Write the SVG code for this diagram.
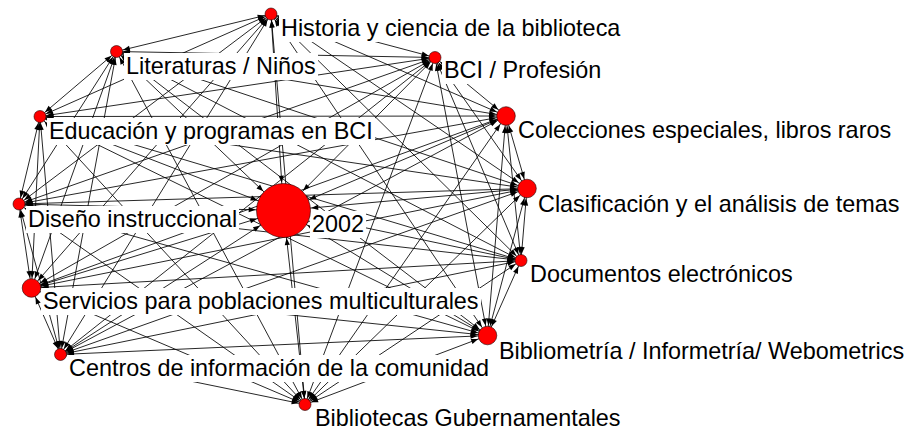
<svg xmlns="http://www.w3.org/2000/svg" width="916" height="433" viewBox="0 0 916 433">
<defs>
<marker id="m6" markerUnits="userSpaceOnUse" markerWidth="10" markerHeight="10" refX="6.5" refY="0" orient="auto-start-reverse" overflow="visible"><path d="M0,0 L-7,-2.6 L-7,2.6 Z" fill="#000"/></marker>
<marker id="m9" markerUnits="userSpaceOnUse" markerWidth="10" markerHeight="10" refX="10" refY="0" orient="auto-start-reverse" overflow="visible"><path d="M0,0 L-7,-2.6 L-7,2.6 Z" fill="#000"/></marker>
<marker id="m27" markerUnits="userSpaceOnUse" markerWidth="10" markerHeight="10" refX="27.8" refY="0" orient="auto-start-reverse" overflow="visible"><path d="M0,0 L-7,-2.6 L-7,2.6 Z" fill="#000"/></marker>
</defs>
<style>
#edges line{stroke:#000;stroke-width:0.85;fill:none}
.s6{marker-start:url(#m6)} .s9{marker-start:url(#m9)} .s27{marker-start:url(#m27)}
.e6{marker-end:url(#m6)} .e9{marker-end:url(#m9)} .e27{marker-end:url(#m27)}
.box{fill:#fff;stroke:none}
.lbl{font-family:"Liberation Sans",Arial,sans-serif;font-size:23.4px;fill:#000}
.nd{fill:#ff0000;stroke:#200;stroke-width:0.6}
</style>
<rect width="916" height="433" fill="#fff"/>
<g id="edges">
<line x1="271" y1="14" x2="116.5" y2="51.5" class="s6 e6"/>
<line x1="271" y1="14" x2="435" y2="57.5" class="s6 e6"/>
<line x1="271" y1="14" x2="40" y2="116.5" class="s6 e6"/>
<line x1="271" y1="14" x2="506" y2="116" class="s6 e9"/>
<line x1="271" y1="14" x2="527" y2="188.5" class="s6 e9"/>
<line x1="271" y1="14" x2="19" y2="204" class="s6 e6"/>
<line x1="271" y1="14" x2="283.5" y2="210.5" class="s6 e27"/>
<line x1="271" y1="14" x2="521" y2="260.5" class="s6 e6"/>
<line x1="271" y1="14" x2="31.5" y2="288" class="s6 e9"/>
<line x1="271" y1="14" x2="487.5" y2="335.5" class="s6 e9"/>
<line x1="271" y1="14" x2="60.5" y2="354.5" class="s6 e6"/>
<line x1="271" y1="14" x2="305" y2="404.5" class="s6 e6"/>
<line x1="116.5" y1="51.5" x2="435" y2="57.5" class="s6 e6"/>
<line x1="116.5" y1="51.5" x2="40" y2="116.5" class="s6 e6"/>
<line x1="116.5" y1="51.5" x2="506" y2="116" class="s6 e9"/>
<line x1="116.5" y1="51.5" x2="527" y2="188.5" class="s6 e9"/>
<line x1="116.5" y1="51.5" x2="19" y2="204" class="s6 e6"/>
<line x1="116.5" y1="51.5" x2="283.5" y2="210.5" class="s6 e27"/>
<line x1="116.5" y1="51.5" x2="521" y2="260.5" class="s6 e6"/>
<line x1="116.5" y1="51.5" x2="31.5" y2="288" class="s6 e9"/>
<line x1="116.5" y1="51.5" x2="487.5" y2="335.5" class="s6 e9"/>
<line x1="116.5" y1="51.5" x2="60.5" y2="354.5" class="s6 e6"/>
<line x1="116.5" y1="51.5" x2="305" y2="404.5" class="s6 e6"/>
<line x1="435" y1="57.5" x2="40" y2="116.5" class="s6 e6"/>
<line x1="435" y1="57.5" x2="506" y2="116" class="s6 e9"/>
<line x1="435" y1="57.5" x2="527" y2="188.5" class="s6 e9"/>
<line x1="435" y1="57.5" x2="19" y2="204" class="s6 e6"/>
<line x1="435" y1="57.5" x2="283.5" y2="210.5" class="s6 e27"/>
<line x1="435" y1="57.5" x2="521" y2="260.5" class="s6 e6"/>
<line x1="435" y1="57.5" x2="31.5" y2="288" class="s6 e9"/>
<line x1="435" y1="57.5" x2="487.5" y2="335.5" class="s6 e9"/>
<line x1="435" y1="57.5" x2="60.5" y2="354.5" class="s6 e6"/>
<line x1="435" y1="57.5" x2="305" y2="404.5" class="s6 e6"/>
<line x1="40" y1="116.5" x2="506" y2="116" class="s6 e9"/>
<line x1="40" y1="116.5" x2="527" y2="188.5" class="s6 e9"/>
<line x1="40" y1="116.5" x2="19" y2="204" class="s6 e6"/>
<line x1="40" y1="116.5" x2="283.5" y2="210.5" class="s6 e27"/>
<line x1="40" y1="116.5" x2="521" y2="260.5" class="s6 e6"/>
<line x1="40" y1="116.5" x2="31.5" y2="288" class="s6 e9"/>
<line x1="40" y1="116.5" x2="487.5" y2="335.5" class="s6 e9"/>
<line x1="40" y1="116.5" x2="60.5" y2="354.5" class="s6 e6"/>
<line x1="40" y1="116.5" x2="305" y2="404.5" class="s6 e6"/>
<line x1="506" y1="116" x2="527" y2="188.5" class="s9 e9"/>
<line x1="506" y1="116" x2="19" y2="204" class="s9 e6"/>
<line x1="506" y1="116" x2="283.5" y2="210.5" class="s9 e27"/>
<line x1="506" y1="116" x2="521" y2="260.5" class="s9 e6"/>
<line x1="506" y1="116" x2="31.5" y2="288" class="s9 e9"/>
<line x1="506" y1="116" x2="487.5" y2="335.5" class="s9 e9"/>
<line x1="506" y1="116" x2="60.5" y2="354.5" class="s9 e6"/>
<line x1="506" y1="116" x2="305" y2="404.5" class="s9 e6"/>
<line x1="527" y1="188.5" x2="19" y2="204" class="s9 e6"/>
<line x1="527" y1="188.5" x2="283.5" y2="210.5" class="s9 e27"/>
<line x1="527" y1="188.5" x2="521" y2="260.5" class="s9 e6"/>
<line x1="527" y1="188.5" x2="31.5" y2="288" class="s9 e9"/>
<line x1="527" y1="188.5" x2="487.5" y2="335.5" class="s9 e9"/>
<line x1="527" y1="188.5" x2="60.5" y2="354.5" class="s9 e6"/>
<line x1="527" y1="188.5" x2="305" y2="404.5" class="s9 e6"/>
<line x1="19" y1="204" x2="283.5" y2="210.5" class="s6 e27"/>
<line x1="19" y1="204" x2="521" y2="260.5" class="s6 e6"/>
<line x1="19" y1="204" x2="31.5" y2="288" class="s6 e9"/>
<line x1="19" y1="204" x2="487.5" y2="335.5" class="s6 e9"/>
<line x1="19" y1="204" x2="60.5" y2="354.5" class="s6 e6"/>
<line x1="19" y1="204" x2="305" y2="404.5" class="s6 e6"/>
<line x1="283.5" y1="210.5" x2="521" y2="260.5" class="s27 e6"/>
<line x1="283.5" y1="210.5" x2="31.5" y2="288" class="s27 e9"/>
<line x1="283.5" y1="210.5" x2="487.5" y2="335.5" class="s27 e9"/>
<line x1="283.5" y1="210.5" x2="60.5" y2="354.5" class="s27 e6"/>
<line x1="283.5" y1="210.5" x2="305" y2="404.5" class="s27 e6"/>
<line x1="521" y1="260.5" x2="31.5" y2="288" class="s6 e9"/>
<line x1="521" y1="260.5" x2="487.5" y2="335.5" class="s6 e9"/>
<line x1="521" y1="260.5" x2="60.5" y2="354.5" class="s6 e6"/>
<line x1="521" y1="260.5" x2="305" y2="404.5" class="s6 e6"/>
<line x1="31.5" y1="288" x2="487.5" y2="335.5" class="s9 e9"/>
<line x1="31.5" y1="288" x2="60.5" y2="354.5" class="s9 e6"/>
<line x1="31.5" y1="288" x2="305" y2="404.5" class="s9 e6"/>
<line x1="487.5" y1="335.5" x2="60.5" y2="354.5" class="s9 e6"/>
<line x1="487.5" y1="335.5" x2="305" y2="404.5" class="s9 e6"/>
<line x1="60.5" y1="354.5" x2="305" y2="404.5" class="s6 e6"/>
</g>
<g id="n-historia"><rect class="box" x="279" y="15" width="348" height="27"/><circle class="nd" cx="271" cy="14" r="6"/><text class="lbl" x="281" y="36">Historia y ciencia de la biblioteca</text></g>
<g id="n-literaturas"><rect class="box" x="124" y="53" width="194" height="27"/><circle class="nd" cx="116.5" cy="51.5" r="6"/><text class="lbl" x="126" y="74">Literaturas / Niños</text></g>
<g id="n-bci"><rect class="box" x="442" y="57" width="161" height="27"/><circle class="nd" cx="435" cy="57.5" r="6"/><text class="lbl" x="444" y="78">BCI / Profesión</text></g>
<g id="n-educacion"><rect class="box" x="47" y="118" width="328" height="27"/><circle class="nd" cx="40" cy="116.5" r="6"/><text class="lbl" x="49" y="139">Educación y programas en BCI</text></g>
<g id="n-colecciones"><rect class="box" x="516" y="117" width="377" height="27"/><circle class="nd" cx="506" cy="116" r="9.3"/><text class="lbl" x="518" y="138">Colecciones especiales, libros raros</text></g>
<g id="n-clasificacion"><rect class="box" x="536" y="191" width="366" height="27"/><circle class="nd" cx="527" cy="188.5" r="9.3"/><text class="lbl" x="538" y="212">Clasificación y el análisis de temas</text></g>
<g id="n-diseno"><rect class="box" x="26" y="206" width="213" height="27"/><circle class="nd" cx="19" cy="204" r="6"/><text class="lbl" x="28" y="227">Diseño instruccional</text></g>
<g id="n-2002"><rect class="box" x="310" y="211" width="56" height="27"/><circle class="nd" cx="283.5" cy="210.5" r="27"/><text class="lbl" x="312" y="232">2002</text></g>
<g id="n-documentos"><rect class="box" x="528" y="261" width="267" height="27"/><circle class="nd" cx="521" cy="260.5" r="6"/><text class="lbl" x="530" y="282">Documentos electrónicos</text></g>
<g id="n-servicios"><rect class="box" x="41" y="288" width="440" height="27"/><circle class="nd" cx="31.5" cy="288" r="9.3"/><text class="lbl" x="43" y="309">Servicios para poblaciones multiculturales</text></g>
<g id="n-bibliometria"><rect class="box" x="497" y="338" width="410" height="27"/><circle class="nd" cx="487.5" cy="335.5" r="9.3"/><text class="lbl" x="499" y="359">Bibliometría / Informetría/ Webometrics</text></g>
<g id="n-centros"><rect class="box" x="67" y="355" width="424" height="27"/><circle class="nd" cx="60.5" cy="354.5" r="6"/><text class="lbl" x="69" y="376">Centros de información de la comunidad</text></g>
<g id="n-gubernamentales"><rect class="box" x="313" y="405" width="311" height="27"/><circle class="nd" cx="305" cy="404.5" r="6"/><text class="lbl" x="315" y="426">Bibliotecas Gubernamentales</text></g>
</svg>
